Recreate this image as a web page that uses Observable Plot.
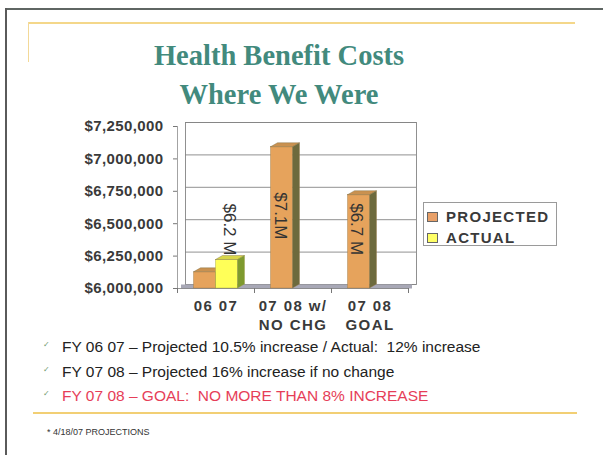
<!DOCTYPE html>
<html>
<head>
<meta charset="utf-8">
<script src="https://cdn.jsdelivr.net/npm/d3@7"></script>
<script src="https://cdn.jsdelivr.net/npm/@observablehq/plot@0.6"></script>
<style>
  html, body { margin: 0; padding: 0; background: #fff; }
  body { width: 603px; height: 455px; position: relative; overflow: hidden; font-family: Arial, "Liberation Sans", sans-serif; }
  .abs { position: absolute; white-space: nowrap; }
  #chart { position: absolute; left: 0; top: 110px; }
  g[aria-label="x-axis tick label"] text { letter-spacing: 1.4px; }
  g[aria-label="y-axis tick label"] text { letter-spacing: 0.4px; }
</style>
</head>
<body>
<!-- slide frame -->
<div class="abs" style="left:5px;top:8px;width:598px;height:2px;background:#5f6663"></div>
<div class="abs" style="left:5px;top:8px;width:2px;height:447px;background:#5a5a5a"></div>
<div class="abs" style="left:28px;top:22px;width:547px;height:2px;background:#f4d78a"></div>
<div class="abs" style="left:28px;top:22px;width:1px;height:40px;background:#f3d998"></div>

<div id="title" class="abs" style="left:0;top:36px;width:558px;text-align:center;font-family:'Liberation Serif','Times New Roman',serif;font-weight:bold;font-size:28.5px;line-height:39px;color:#428a7d"></div>

<div id="chart"></div>

<div id="legend"></div>

<div id="bullets"></div>

<div class="abs" style="left:33px;top:412px;width:544px;height:2px;background:#f2cf74"></div>
<div id="footnote" class="abs" style="left:47px;top:426px;font-size:9px;line-height:12px;color:#333"></div>

<script>
// ---------- data ----------
const titleLines = ["Health Benefit Costs", "Where We Were"];
const categories = ["06 07", "07 08 w/\nNO CHG", "07 08\nGOAL"];
const seriesNames = ["PROJECTED", "ACTUAL"];
const projected = [6125000, 7090000, 6720000];
const actual = [6220000, null, null];
const barLabels = ["$6.2 M", "$7.1M", "$6.7 M"];
const barLabelSeries = ["ACTUAL", "PROJECTED", "PROJECTED"];
const yTicks = [6000000, 6250000, 6500000, 6750000, 7000000, 7250000];
const bulletTexts = [
  "FY 06 07 \u2013 Projected 10.5% increase / Actual:\u00a0 12% increase",
  "FY 07 08 \u2013 Projected 16% increase if no change",
  "FY 07 08 \u2013 GOAL:\u00a0 NO MORE THAN 8% INCREASE"
];
const footnote = "* 4/18/07 PROJECTIONS";

// ---------- styles ----------
const colors = {
  PROJECTED: {front: "#e6a35c", top: "#c99150", side: "#6d6a3d", swatch: "#e8a068"},
  ACTUAL: {front: "#ffff58", top: "#d8d64a", side: "#7e9a2e", swatch: "#ffff66"}
};
const DX = 7, DY = 4;

document.getElementById("title").innerHTML = titleLines.join("<br>");

// ---------- rows ----------
const projRows = categories.map((c, i) => ({category: c, series: "PROJECTED", value: projected[i]}));
const actRows = categories.map((c, i) => ({category: c, series: "ACTUAL", value: actual[i]})).filter(d => d.value != null);
const valueOf = (c, s) => (s === "PROJECTED" ? projected : actual)[categories.indexOf(c)];
const labelRows = categories.map((c, i) => ({category: c, text: barLabels[i], value: valueOf(c, barLabelSeries[i])}));

const NS = "http://www.w3.org/2000/svg";
function extrude(series) {
  const col = colors[series];
  return (index, scales, values, dims, ctx, next) => {
    const g = next(index, scales, values, dims, ctx);
    for (const r of Array.from(g.querySelectorAll("rect"))) {
      const x = +r.getAttribute("x"), y = +r.getAttribute("y");
      const w = +r.getAttribute("width"), h = +r.getAttribute("height");
      const top = document.createElementNS(NS, "polygon");
      top.setAttribute("points", `${x},${y} ${x + DX},${y - DY} ${x + w + DX},${y - DY} ${x + w},${y}`);
      top.setAttribute("fill", col.top);
      top.setAttribute("stroke", "#7a6a40");
      top.setAttribute("stroke-width", "0.4");
      const side = document.createElementNS(NS, "polygon");
      side.setAttribute("points", `${x + w},${y} ${x + w + DX},${y - DY} ${x + w + DX},${y + h - DY} ${x + w},${y + h}`);
      side.setAttribute("fill", col.side);
      g.appendChild(top);
      g.appendChild(side);
    }
    return g;
  };
}

const base = yTicks[0];
const half = 77 / 2;

const chart = Plot.plot({
  width: 430,
  height: 230,
  marginLeft: 177,
  marginRight: 22,
  marginTop: 16,
  marginBottom: 52,
  style: {fontFamily: "Arial, 'Liberation Sans', sans-serif", fontSize: "15px", fontWeight: "bold", color: "#3a3a3a", background: "transparent", overflow: "visible"},
  x: {domain: categories, padding: 0, label: null},
  y: {domain: [yTicks[0], yTicks[yTicks.length - 1]], label: null},
  marks: [
    // back wall
    Plot.frame({dx: DX + 1, dy: -DY, stroke: "#858585", strokeWidth: 0.9}),
    Plot.ruleY(yTicks, {dx: DX + 1, dy: -DY, stroke: "#858585", strokeWidth: 0.9}),
    // floor
    Plot.ruleY([base], {dx: 4, dy: -2, stroke: "#a8a8b6", strokeWidth: 4}),
    Plot.ruleY([base], {stroke: "#7a7a7a", strokeWidth: 0.8}),
    // front axis line
    Plot.frame({anchor: "left", stroke: "#8c8c8c", strokeWidth: 0.8}),
    // bars
    Plot.barY(projRows, {x: "category", y1: base, y2: "value", fill: colors.PROJECTED.front, insetLeft: 27.5, insetRight: 27.5, dx: -11, stroke: "#9a7a45", strokeWidth: 0.4, render: extrude("PROJECTED")}),
    Plot.barY(actRows, {x: "category", y1: base, y2: "value", fill: colors.ACTUAL.front, insetLeft: 27.5, insetRight: 27.5, dx: 11, stroke: "#9a9a40", strokeWidth: 0.4, render: extrude("ACTUAL")}),
    // bar labels (rotated)
    Plot.text(labelRows.slice(0, 1), {x: "category", y: "value", text: "text", rotate: 90, textAnchor: "start", dx: 13.5, dy: -56.5, fontSize: 17, fontWeight: "normal", fill: "#333"}),
    Plot.text(labelRows.slice(1, 2), {x: "category", y: "value", text: "text", rotate: 90, textAnchor: "start", dx: -13, dy: 45, fontSize: 17, fontWeight: "normal", fill: "#333"}),
    Plot.text(labelRows.slice(2, 3), {x: "category", y: "value", text: "text", rotate: 90, textAnchor: "start", dx: -14, dy: 8, fontSize: 17, fontWeight: "normal", fill: "#333"}),
    // axes
    Plot.axisY(yTicks, {tickFormat: d3.format("$,"), tickSize: 4, tickPadding: 10, stroke: "#777", fill: "#3a3a3a", fontSize: 15, fontWeight: "bold"}),
    Plot.axisX(categories, {tickSize: 5, dx: -half, tickFormat: () => "", stroke: "#777"}),
    Plot.axisX(categories.slice(-1), {tickSize: 5, dx: half, tickFormat: () => "", stroke: "#777"}),
    Plot.axisX(categories, {tickSize: 0, tickPadding: 9, lineHeight: 1.27, fill: "#3a3a3a", fontSize: 15, fontWeight: "bold"})
  ]
});
document.getElementById("chart").appendChild(chart);

// ---------- legend ----------
const legend = document.getElementById("legend");
legend.innerHTML = `<div class="abs" style="left:423px;top:202px;width:132px;height:42px;border:1px solid #9a9a9a"></div>` +
  seriesNames.map((s, i) =>
    `<div class="abs" style="left:427px;top:${212 + i * 21}px;width:9px;height:8px;background:${colors[s].swatch};border:1px solid #666"></div>` +
    `<div class="abs" style="left:446px;top:${206.3 + i * 21}px;font-size:15px;line-height:21px;font-weight:bold;letter-spacing:1.3px;color:#3a3a3a">${s}</div>`
  ).join("");

// ---------- bullets ----------
const bullets = document.getElementById("bullets");
bullets.innerHTML = bulletTexts.map((t, i) =>
  `<div class="abs" style="left:43px;top:${339 + i * 24.5}px;font-family:'DejaVu Sans',sans-serif;font-size:8px;line-height:12px;color:#6f9a6f">\u2713</div>` +
  `<div class="abs" style="left:62px;top:${335.4 + i * 24.5}px;font-size:15.5px;line-height:24.5px;color:${i === 2 ? '#e63e58' : '#222'}">${t}</div>`
).join("");

document.getElementById("footnote").textContent = footnote;
</script>
</body>
</html>
